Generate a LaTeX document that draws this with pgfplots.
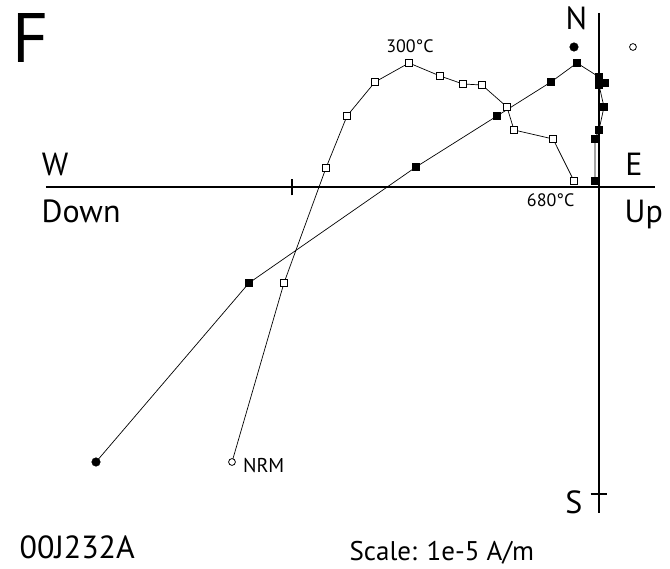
\documentclass[border=0pt]{standalone}
\usepackage{pgfplots}
\pgfplotsset{compat=1.18}
\usepackage{fontspec}
\setmainfont{PT Sans}
\pgfplotstableread{
x y
-1.1954 -0.8958
-1.0261 -0.3127
-0.8893 0.0619
-0.8208 0.2313
-0.7296 0.3420
-0.6189 0.4039
-0.5179 0.3616
-0.4430 0.3355
-0.3811 0.3322
-0.2997 0.2606
-0.2769 0.1857
-0.1498 0.1564
-0.0814 0.0195
}\openpts
\pgfplotstableread{
x y
-1.6384 -0.8958
-1.1401 -0.3127
-0.5961 0.0651
-0.3322 0.2313
-0.1564 0.3420
-0.0717 0.4039
0.0000 0.3583
0.0195 0.3388
0.0000 0.3322
0.0163 0.2606
0.0000 0.1857
-0.0130 0.1564
-0.0130 0.0195
}\filledpts
\begin{document}
\begin{tikzpicture}
\begin{axis}[scale only axis, width=670pt, height=569pt,
  xmin=-1.9511, xmax=0.2313, ymin=-1.2443, ymax=0.6091,
  hide axis, clip=false]
% axes
\draw[line width=1.1pt] (axis cs:-1.8013,0) -- (axis cs:0.1824,0);
\draw[line width=1.1pt] (axis cs:0,0.5668) -- (axis cs:0,-1.0619);
\draw[line width=1.1pt] (axis cs:-1,-0.027) -- (axis cs:-1,0.027);
\draw[line width=1.1pt] (axis cs:-0.027,-1) -- (axis cs:0.027,-1);
% lines
\addplot[black, line width=0.7pt, no marks] table[x=x,y=y] {\filledpts};
\addplot[black, line width=0.7pt, no marks] table[x=x,y=y] {\openpts};
% filled squares (skip NRM)
\addplot[only marks, mark=square*, mark size=3.6pt, mark options={draw=black, fill=black, line width=0.6pt}, skip coords between index={0}{1}] table[x=x,y=y] {\filledpts};
% open squares
\addplot[only marks, mark=square*, mark size=3.5pt, mark options={draw=black, fill=white, line width=0.9pt}, skip coords between index={0}{1}] table[x=x,y=y] {\openpts};
% NRM points
\addplot[only marks, mark=*, mark size=4.3pt, mark options={draw=black, fill=black}] coordinates {(-1.6384,-0.8958)};
\addplot[only marks, mark=*, mark size=3.4pt, mark options={draw=black, fill=white, line width=0.8pt}] coordinates {(-1.1954,-0.8958)};
% direction symbols
\addplot[only marks, mark=*, mark size=4.3pt, mark options={draw=black, fill=black}] coordinates {(-0.0814,0.4560)};
\addplot[only marks, mark=*, mark size=3.4pt, mark options={draw=black, fill=white, line width=0.8pt}] coordinates {(0.1107,0.4560)};
% labels
\node[anchor=base west, inner sep=0pt, font=\fontsize{70}{80}\selectfont] at (rel axis cs:0.0190,0.8898) {F};
\node[anchor=base, inner sep=0pt, font=\fontsize{32}{36}\selectfont] at (rel axis cs:0.8604,0.9485) {N};
\node[anchor=base, inner sep=0pt, font=\fontsize{32}{36}\selectfont] at (rel axis cs:0.8567,0.0979) {S};
\node[anchor=base, inner sep=0pt, font=\fontsize{32}{36}\selectfont] at (rel axis cs:0.0821,0.6924) {W};
\node[anchor=base west, inner sep=0pt, font=\fontsize{32}{36}\selectfont] at (rel axis cs:0.9330,0.6924) {E};
\node[anchor=base west, inner sep=0pt, font=\fontsize{32}{36}\selectfont] at (rel axis cs:0.0620,0.6086) {Down};
\node[anchor=base west, inner sep=0pt, font=\fontsize{32}{36}\selectfont] at (rel axis cs:0.9320,0.6098) {Up};
\node[anchor=base, inner sep=0pt, font=\fontsize{18}{22}\selectfont] at (rel axis cs:0.6119,0.9074) {300°C};
\node[anchor=base, inner sep=0pt, font=\fontsize{18}{22}\selectfont] at (rel axis cs:0.8219,0.6367) {680°C};
\node[anchor=base west, inner sep=0pt, font=\fontsize{20}{24}\selectfont] at (rel axis cs:0.3625,0.1692) {NRM};
\node[anchor=base west, inner sep=0pt, font=\fontsize{32}{38}\selectfont] at (rel axis cs:0.0290,0.0190) {00J232A};
\node[anchor=base west, inner sep=0pt, font=\fontsize{27}{32}\selectfont] at (rel axis cs:0.5215,0.0150) {Scale: 1e-5 A/m};
\end{axis}
\pgfresetboundingbox
\path[use as bounding box] (current axis.south west) rectangle (current axis.north east);
\end{tikzpicture}
\end{document}
